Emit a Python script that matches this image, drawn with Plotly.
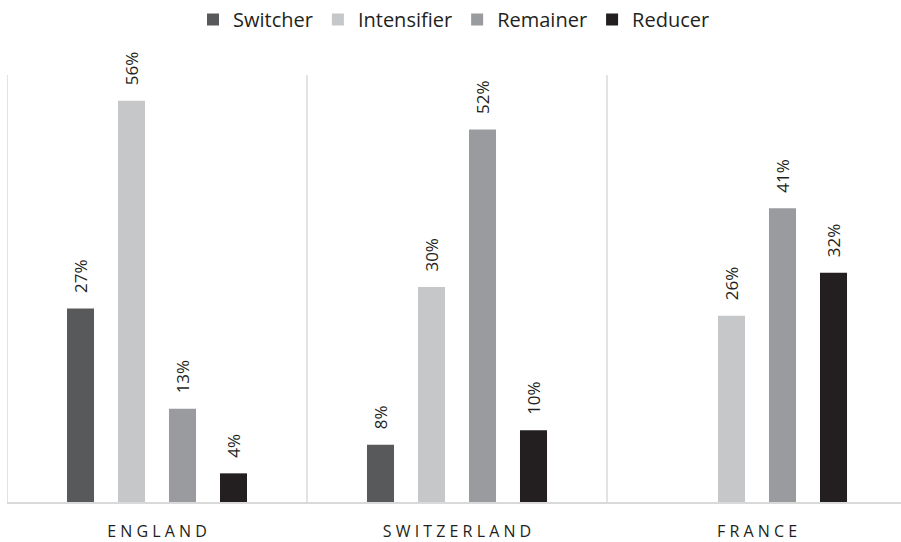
import plotly.graph_objects as go

categories = ["ENGLAND", "SWITZERLAND", "FRANCE"]
tick_labels = ["E N G L A N D", "S W I T Z E R L A N D", "F R A N C E"]
series_names = ["Switcher", "Intensifier", "Remainer", "Reducer"]
switcher = [27, 8, None]
intensifier = [56, 30, 26]
remainer = [13, 52, 41]
reducer = [4, 10, 32]
colors = ["#58595b", "#c6c7c9", "#9a9b9e", "#231f20"]

series_values = [switcher, intensifier, remainer, reducer]
FONT = "Open Sans"

fig = go.Figure()
for name, vals, col in zip(series_names, series_values, colors):
    fig.add_trace(go.Bar(
        x=categories, y=vals, name=name,
        marker=dict(color=col, line=dict(width=0)),
    ))

# rotated value labels above bars
slot = 51
annotations = []
for i, vals in enumerate(series_values):
    for cat, v in zip(categories, vals):
        if v is None:
            continue
        annotations.append(dict(
            x=cat, y=v, xref="x", yref="y",
            text=f"{v}%", showarrow=False, textangle=-90,
            xanchor="center", yanchor="bottom",
            xshift=(i - 1.5) * slot, yshift=13,
            font=dict(family=FONT, size=17, color="#231f20"),
        ))

shapes = []
for xv in [-0.5, 0.5, 1.5]:
    shapes.append(dict(type="line", xref="x", yref="paper", x0=xv, x1=xv, y0=0, y1=1,
                       line=dict(color="#e3e3e3", width=2), layer="below"))

fig.update_layout(
    width=901, height=542,
    margin=dict(l=7, r=0, t=75, b=40),
    paper_bgcolor="white", plot_bgcolor="white",
    barmode="group", bargap=0.32, bargroupgap=0.47,
    font=dict(family=FONT, color="#231f20"),
    showlegend=True,
    legend=dict(orientation="h", x=0.5, xanchor="center", y=1.0, yanchor="top",
                yref="container", font=dict(family=FONT, size=20, color="#231f20"),
                itemwidth=30, traceorder="normal"),
    annotations=annotations,
    shapes=shapes,
    xaxis=dict(range=[-0.5, 2.48], tickvals=categories, ticktext=tick_labels,
               showgrid=False, showline=True, linecolor="#d9d9d9", linewidth=2,
               ticks="", ticklabelstandoff=14,
               tickfont=dict(family=FONT, size=16, color="#231f20")),
    yaxis=dict(range=[0, 59.6], visible=False, showgrid=False, zeroline=False),
)

fig.write_html("out.html", config={"displayModeBar": False},
               post_script="document.body.style.margin='0';document.body.style.overflow='hidden';")
